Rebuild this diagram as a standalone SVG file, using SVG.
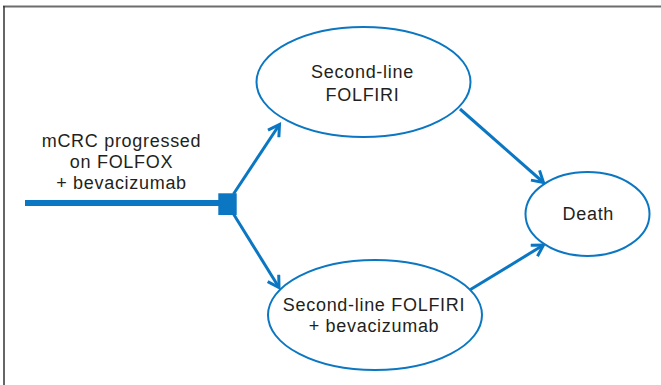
<svg xmlns="http://www.w3.org/2000/svg" width="661" height="385" viewBox="0 0 661 385">
<style>
.node{fill:#fff;stroke:#0b77c2;stroke-width:2}
.lbl{font-family:"Liberation Sans",Arial,sans-serif;font-size:18px;letter-spacing:0.7px;fill:#231f20;text-anchor:middle}
.conn{stroke:#0b77c2;stroke-width:3;fill:none}
</style>
<defs>
<marker id="arr" markerUnits="userSpaceOnUse" viewBox="0 0 16 16" markerWidth="16" markerHeight="16" refX="13" refY="8" orient="auto">
<path d="M2,1.5 L13,8 L2,14.5" fill="none" stroke="#0b77c2" stroke-width="3" stroke-linejoin="miter" stroke-miterlimit="4"/>
</marker>
</defs>
<rect width="661" height="385" fill="#fff"/>
<g id="frame">
<line x1="3" y1="6.5" x2="661" y2="6.5" stroke="#6d6d6d" stroke-width="2"/>
<line x1="4" y1="6" x2="4" y2="385" stroke="#333" stroke-width="1.5"/>
</g>
<g id="connectors">
<line x1="25" y1="203" x2="220" y2="203" stroke="#0b77c2" stroke-width="6"/>
<rect x="218.3" y="193.3" width="18.4" height="21.7" fill="#0b77c2"/>
<line class="conn" x1="233.5" y1="194" x2="279.5" y2="124.5" marker-end="url(#arr)"/>
<line class="conn" x1="233.5" y1="214" x2="279" y2="287.5" marker-end="url(#arr)"/>
<line class="conn" x1="460" y1="109" x2="543.5" y2="182.5" marker-end="url(#arr)"/>
<line class="conn" x1="470.5" y1="289.5" x2="543.5" y2="245" marker-end="url(#arr)"/>
</g>
<g id="start">
<text class="lbl" x="121.5" y="146.7">mCRC progressed</text>
<text class="lbl" x="121.5" y="167.7">on FOLFOX</text>
<text class="lbl" x="121.5" y="189.3">+ bevacizumab</text>
</g>
<g id="folfiri">
<ellipse class="node" cx="363.5" cy="82" rx="107" ry="55"/>
<text class="lbl" x="362.5" y="78.3">Second-line</text>
<text class="lbl" x="362.5" y="100.7">FOLFIRI</text>
</g>
<g id="folfiri-bev">
<ellipse class="node" cx="375" cy="315" rx="107" ry="55"/>
<text class="lbl" x="374" y="311">Second-line FOLFIRI</text>
<text class="lbl" x="374" y="332.3">+ bevacizumab</text>
</g>
<g id="death">
<ellipse class="node" cx="587.5" cy="214" rx="62" ry="42"/>
<text class="lbl" x="588.3" y="220">Death</text>
</g>
</svg>
